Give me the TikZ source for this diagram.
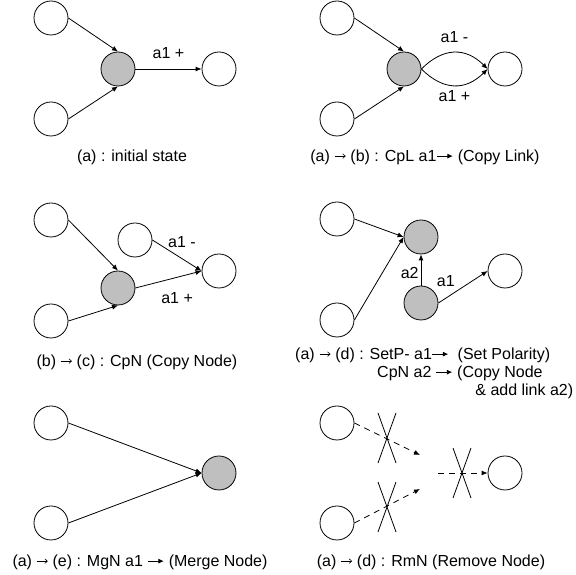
\documentclass[tikz,border=0pt]{standalone}
\usepackage{fontspec}
\setmainfont{Liberation Sans}
\usetikzlibrary{arrows.meta}
\newcommand{\cutmark}[1]{\draw (#1) ++(-9,25) -- ++(18,-50); \draw (#1) ++(9,25) -- ++(-18,-50);}
\newcommand{\thinarr}{\tikz[baseline=-5pt]\draw[line width=0.6pt,-{Straight Barb[length=2.5pt,width=4.5pt]}] (0pt,0pt) -- (11pt,0pt);}
\newcommand{\fatarr}{\tikz[baseline=-5pt]\draw[line width=0.9pt,-{Latex[length=5.5pt,width=5pt]}] (0pt,0pt) -- (16pt,0pt);}

\begin{document}
\begin{tikzpicture}[x=1pt,y=1pt,line width=0.8pt,
    every node/.style={font=\fontsize{16}{19}\selectfont},
    state/.style={circle,draw,fill=white,minimum size=34pt,inner sep=0pt},
    active/.style={state,fill=gray!50},
    arr/.style={-{Latex[length=6pt,width=5pt]}},
    gone/.style={arr,dash pattern=on 6pt off 5pt},
    lbl/.style={inner sep=2pt},
    caption/.style={inner sep=0pt}]
  \useasboundingbox (0,0) rectangle (576,575);

  % (a)
  \node[state] (aTop) at (51,557) {};
  \node[state] (aBot) at (51,456) {};
  \node[active] (aHub) at (118,506) {};
  \node[state] (aOut) at (219,506) {};
  \draw[arr] (aTop.east) -- (aHub.north);
  \draw[arr] (aBot.east) -- (aHub.south);
  \draw[arr] (aHub.east) -- node[lbl,midway,above=8pt] {a1 +} (aOut.west);
  \node[caption] (aCap) at (132,418) {(a) : initial state};

  % (b)
  \node[state] (bTop) at (337,557) {};
  \node[state] (bBot) at (337,456) {};
  \node[active] (bHub) at (404,506) {};
  \node[state] (bOut) at (505,506) {};
  \draw[arr] (bTop.east) -- (bHub.north);
  \draw[arr] (bBot.east) -- (bHub.south);
  \draw[arr] (bHub.east) to[out=45,in=135,looseness=1.2] node[lbl,midway,above=8pt] {a1 -} (bOut.west);
  \draw[arr] (bHub.east) to[out=-45,in=-135,looseness=1.2] node[lbl,midway,below=3pt] {a1 +} (bOut.west);
  \node[caption] (bCap) at (425,418) {(a) \thinarr{} (b) : CpL a1\fatarr{} (Copy Link)};

  % (c)
  \node[state] (cTop) at (51,355) {};
  \node[state] (cBot) at (51,254) {};
  \node[state] (cCopy) at (135,335) {};
  \node[active] (cHub) at (118,287) {};
  \node[state] (cOut) at (219,304) {};
  \draw[arr] (cTop.east) -- (cHub.north);
  \draw[arr] (cBot.east) -- (cHub.south);
  \draw[arr] (cCopy.east) -- node[lbl,pos=0.6,above=9pt] {a1 -} (cOut.west);
  \draw[arr] (cHub.east) -- node[lbl,pos=0.63,below=13pt] {a1 +} (cOut.west);
  \node[caption] (cCap) at (137,213) {(b) \thinarr{} (c) : CpN (Copy Node)};

  % (d)
  \node[state] (dTop) at (337,356) {};
  \node[state] (dBot) at (337,255) {};
  \node[active] (dHub) at (421,338) {};
  \node[active] (dCopy) at (421,272) {};
  \node[state] (dOut) at (505,304) {};
  \draw[arr] (dTop.east) -- (dHub.west);
  \draw[arr] (dBot.east) -- (dHub.west);
  \draw[arr] (dCopy.north) -- node[lbl,pos=0.4,left] {a2} (dHub.south);
  \draw[arr] (dCopy.east) -- node[lbl,pos=0.15,above=9pt] {a1} (dOut.west);
  \node[caption,anchor=west] (dCap1) at (295,220) {(a) \thinarr{} (d) : SetP- a1\fatarr{}\ \ (Set Polarity)};
  \node[caption,anchor=west] (dCap2) at (377,202) {CpN a2 \fatarr{} (Copy Node};
  \node[caption,anchor=west] (dCap3) at (475,184) {\& add link a2)};

  % (e)
  \node[state] (eTop) at (51,152) {};
  \node[state] (eBot) at (51,52) {};
  \node[active] (eHub) at (219,102) {};
  \draw[arr] (eTop.east) -- (eHub.west);
  \draw[arr] (eBot.east) -- (eHub.west);
  \node[caption] (eCap) at (140,13) {(a) \thinarr{} (e) : MgN a1 \fatarr{} (Merge Node)};

  % (f)
  \node[state] (fTop) at (337,152) {};
  \node[state] (fBot) at (337,52) {};
  \node[state] (fOut) at (505,102) {};
  \coordinate (fEndA) at (420,120);
  \coordinate (fEndB) at (420,86);
  \coordinate (fStart) at (438,102);
  \draw[gone] (fTop.east) -- (fEndA);
  \draw[gone] (fBot.east) -- (fEndB);
  \draw[gone] (fStart) -- (fOut.west);
  \cutmark{387,137}
  \cutmark{387,68}
  \cutmark{462,102}
  \node[caption] (fCap) at (431,13) {(a) \thinarr{} (d) : RmN (Remove Node)};
\end{tikzpicture}
\end{document}
